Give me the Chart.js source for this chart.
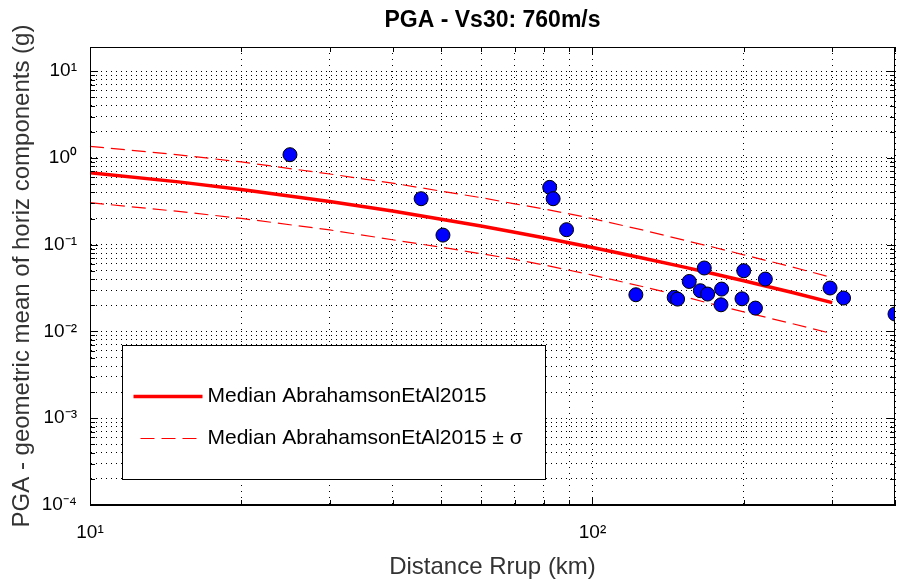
<!DOCTYPE html>
<html>
<head>
<meta charset="utf-8">
<script src="https://cdn.jsdelivr.net/npm/chart.js@4.4.0/dist/chart.umd.min.js"></script>
<style>
  html, body { margin: 0; padding: 0; background: #fff; }
  #wrap { width: 897px; height: 579px; }
</style>
</head>
<body>
<div id="wrap"><canvas id="pgaChart"></canvas></div>
<script>
// GMPE curves, read at these distances (km)
const curveDist = [10, 15, 20, 30, 40, 50, 60, 70, 80, 100, 125, 150, 175, 200, 250, 300];
const medianPGA = [0.677, 0.530, 0.434, 0.315, 0.244, 0.197, 0.164, 0.139, 0.120, 0.0928, 0.0709, 0.0563, 0.0460, 0.0384, 0.0281, 0.0215];
const upperPGA  = [1.361, 1.086, 0.901, 0.653, 0.513, 0.414, 0.349, 0.296, 0.259, 0.200, 0.149, 0.115, 0.0929, 0.0765, 0.0553, 0.0418];
const lowerPGA  = [0.305, 0.242, 0.201, 0.148, 0.114, 0.0935, 0.0788, 0.0678, 0.0585, 0.0447, 0.0332, 0.0257, 0.0204, 0.0168, 0.0123, 0.00945];

// recorded stations
const stationDist = [25.0, 45.6, 50.4, 82.2, 83.5, 88.8, 122, 145.4, 147.7, 155.8, 166.9, 163.9, 169.5,
                     180.7, 180.2, 200, 198.4, 211, 220.8, 297, 316, 400];
const stationPGA  = [1.09, 0.339, 0.129, 0.458, 0.339, 0.149, 0.0265, 0.0247, 0.0236, 0.0377, 0.0539, 0.0295, 0.027,
                     0.0308, 0.0203, 0.0501, 0.0238, 0.0186, 0.0402, 0.0317, 0.0243, 0.0159];

// axis ticks
const xTicks = [10, 20, 30, 40, 50, 60, 70, 80, 90, 100, 200, 300, 400];
const yDecades = [1e-4, 1e-3, 1e-2, 1e-1, 1, 10];
const yMin = 1e-4, yMax = 19;
const xMin = 10, xMax = 400;

const titleText = 'PGA - Vs30: 760m/s';

const toPoints = (xs, ys) => xs.map((x, i) => ({x: x, y: ys[i]}));

const supChars = {'-': '\u207B', '0': '\u2070', '1': '\u00B9', '2': '\u00B2', '3': '\u00B3', '4': '\u2074'};
const isPow10 = v => {
    const e = Math.round(Math.log10(v));
    return Math.abs(v - Math.pow(10, e)) < 1e-9 * v;
};
const powLabel = v => {
    if (!isPow10(v)) return '';
    const e = String(Math.round(Math.log10(v)));
    return '10' + e.split('').map(c => supChars[c]).join('');
};

let yTicks = [];
yDecades.forEach(d => {
    for (let k = 1; k <= 9; k++) {
        const v = +(d * k).toPrecision(6);
        if (v >= yMin && v <= yMax) yTicks.push(v);
    }
});

// box + inward ticks + title over the axes, matlab style
const matlabFrame = {
    id: 'matlabFrame',
    afterDraw(chart) {
        const {ctx, chartArea: a, scales} = chart;
        ctx.save();
        ctx.strokeStyle = '#000';
        ctx.lineWidth = 1;
        ctx.setLineDash([]);
        ctx.beginPath();
        scales.x.ticks.forEach(t => {
            const px = Math.round(scales.x.getPixelForValue(t.value)) + 0.5;
            const len = isPow10(t.value) ? 8 : 5;
            ctx.moveTo(px, a.bottom); ctx.lineTo(px, a.bottom - len);
            ctx.moveTo(px, a.top); ctx.lineTo(px, a.top + len);
        });
        scales.y.ticks.forEach(t => {
            const py = Math.round(scales.y.getPixelForValue(t.value)) + 0.5;
            const len = isPow10(t.value) ? 8 : 5;
            ctx.moveTo(a.left, py); ctx.lineTo(a.left + len, py);
            ctx.moveTo(a.right, py); ctx.lineTo(a.right - len, py);
        });
        ctx.stroke();
        ctx.strokeRect(Math.round(a.left) + 0.5, Math.round(a.top) + 0.5,
                       Math.round(a.right - a.left) - 1, Math.round(a.bottom - a.top) - 1);

        ctx.fillStyle = '#000';
        ctx.font = 'bold 23px "Liberation Sans", Arial, sans-serif';
        ctx.textAlign = 'center';
        ctx.textBaseline = 'middle';
        ctx.fillText(titleText, (a.left + a.right) / 2, 21);
        ctx.restore();
    }
};

// legend drawn inside the axes
const insideLegend = {
    id: 'insideLegend',
    afterDraw(chart) {
        const {ctx, chartArea: a} = chart;
        const left = Math.round(a.left) + 32.5, top = Math.round(a.bottom) - 159.5;
        const w = 423, h = 134;
        ctx.save();
        ctx.fillStyle = '#fff';
        ctx.fillRect(left, top, w, h);
        ctx.strokeStyle = '#000';
        ctx.lineWidth = 1;
        ctx.strokeRect(left, top, w, h);
        ctx.font = '21px "Liberation Sans", Arial, sans-serif';
        ctx.textBaseline = 'middle';
        ctx.fillStyle = '#000';
        let row = 0;
        chart.data.datasets.forEach(ds => {
            if (!ds.legendEntry) return;
            const y = Math.round(top + 50 + row * 42) + 0.5;
            ctx.strokeStyle = ds.borderColor;
            ctx.lineWidth = ds.borderWidth;
            ctx.setLineDash(ds.borderDash || []);
            ctx.lineDashOffset = ds.borderDash ? 14 : 0;
            ctx.beginPath();
            ctx.moveTo(left + 11, y);
            ctx.lineTo(left + 80, y);
            ctx.stroke();
            ctx.setLineDash([]);
            ctx.fillText(ds.label, left + 85, y);
            row++;
        });
        ctx.restore();
    }
};

const ctx = document.getElementById('pgaChart').getContext('2d');
const pgaChart = new Chart(ctx, {
    type: 'scatter',
    data: {
        datasets: [
            {
                label: 'Stations',
                data: toPoints(stationDist, stationPGA),
                backgroundColor: '#0000ff',
                borderColor: '#000',
                borderWidth: 1,
                pointRadius: 7,
                order: 0
            },
            {
                label: 'Median AbrahamsonEtAl2015',
                legendEntry: true,
                data: toPoints(curveDist, medianPGA),
                showLine: true,
                borderColor: '#ff0000',
                borderWidth: 3.5,
                pointRadius: 0,
                order: 1
            },
            {
                label: 'Median AbrahamsonEtAl2015 \u00B1 \u03C3',
                legendEntry: true,
                data: toPoints(curveDist, upperPGA),
                showLine: true,
                borderColor: '#ff0000',
                borderWidth: 1.2,
                borderDash: [14, 7],
                pointRadius: 0,
                order: 2
            },
            {
                label: 'lower',
                data: toPoints(curveDist, lowerPGA),
                showLine: true,
                borderColor: '#ff0000',
                borderWidth: 1.2,
                borderDash: [14, 7],
                pointRadius: 0,
                order: 2
            }
        ]
    },
    options: {
        responsive: true,
        maintainAspectRatio: false,
        animation: false,
        layout: { autoPadding: false, padding: { left: 0, right: 2, top: 47, bottom: 0 } },
        plugins: {
            legend: { display: false },
            tooltip: { enabled: false },
            title: { display: false }
        },
        scales: {
            x: {
                type: 'logarithmic',
                position: 'bottom',
                min: xMin,
                max: xMax,
                afterBuildTicks: scale => {
                    scale.ticks = xTicks.map(v => ({value: v, major: isPow10(v)}));
                },
                afterFit: scale => {
                    scale.height = 74;
                    scale.paddingLeft = 0;
                    scale.paddingRight = 0;
                },
                ticks: {
                    autoSkip: false,
                    maxRotation: 0,
                    padding: 16,
                    color: '#000',
                    font: { family: 'Liberation Sans', size: 19 },
                    callback: v => powLabel(v)
                },
                grid: { color: '#000', lineWidth: 1, drawTicks: false },
                border: { display: true, color: '#000', dash: [1, 5] },
                title: {
                    display: true,
                    text: 'Distance Rrup (km)',
                    color: '#333',
                    font: { family: 'Liberation Sans', size: 24, lineHeight: 1 },
                    padding: { top: 0, bottom: 0 }
                }
            },
            y: {
                type: 'logarithmic',
                position: 'left',
                min: yMin,
                max: yMax,
                afterBuildTicks: scale => {
                    scale.ticks = yTicks.map(v => ({value: v, major: isPow10(v)}));
                },
                afterFit: scale => {
                    scale.width = 90;
                    scale.paddingTop = 0;
                    scale.paddingBottom = 0;
                },
                ticks: {
                    autoSkip: false,
                    padding: 13,
                    color: '#000',
                    font: { family: 'Liberation Sans', size: 19 },
                    callback: v => powLabel(v)
                },
                grid: { color: '#000', lineWidth: 1, drawTicks: false },
                border: { display: true, color: '#000', dash: [1, 4] },
                title: {
                    display: true,
                    text: 'PGA - geometric mean of horiz components (g)',
                    color: '#333',
                    font: { family: 'Liberation Sans', size: 24, lineHeight: 1 },
                    padding: { top: 10, bottom: 0 }
                }
            }
        }
    },
    plugins: [matlabFrame, insideLegend]
});
</script>
</body>
</html>
